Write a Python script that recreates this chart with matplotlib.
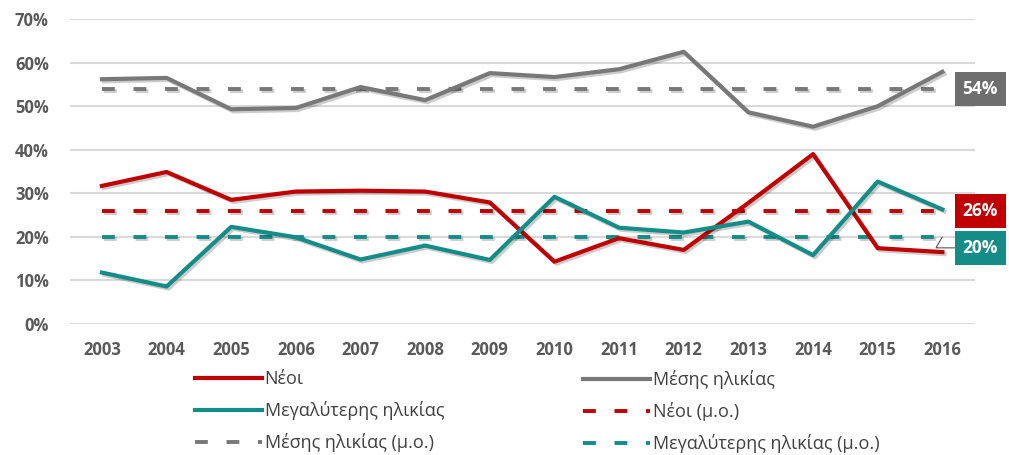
import matplotlib
matplotlib.use('Agg')
import matplotlib.pyplot as plt
import matplotlib.patheffects as pe
from matplotlib.lines import Line2D

plt.rcParams['font.family'] = ['Open Sans', 'DejaVu Sans']

years = ['2003', '2004', '2005', '2006', '2007', '2008', '2009',
         '2010', '2011', '2012', '2013', '2014', '2015', '2016']
neoi = [31.7, 34.9, 28.5, 30.4, 30.6, 30.4, 27.9, 14.3, 19.7, 17.0, 27.8, 39.0, 17.4, 16.5]
mesis = [56.2, 56.5, 49.3, 49.6, 54.4, 51.4, 57.6, 56.7, 58.5, 62.5, 48.6, 45.3, 50.0, 57.9]
megal = [11.8, 8.6, 22.3, 19.9, 14.8, 18.0, 14.7, 29.2, 22.1, 21.0, 23.5, 15.8, 32.7, 26.3]
avg_neoi = 26
avg_mesis = 54
avg_megal = 20

RED = '#C00000'
GREY = '#787878'
TEAL = '#148C88'

fig = plt.figure(figsize=(10.09, 4.55), dpi=100)
ax = fig.add_axes([0.069, 0.288, 0.897, 0.670])

x = list(range(len(years)))
shadow = [pe.SimpleLineShadow(offset=(1.5, -1.5), shadow_color='k', alpha=0.2), pe.Normal()]

ax.plot(x, neoi, color=RED, lw=3, path_effects=shadow, zorder=4)
ax.plot(x, mesis, color=GREY, lw=3, path_effects=shadow, zorder=4)
ax.plot(x, megal, color=TEAL, lw=3, path_effects=shadow, zorder=4)
dash = (3.3, 4.8)
ax.plot(x, [avg_neoi] * len(x), color=RED, lw=2.8, dashes=dash, path_effects=shadow, zorder=3)
ax.plot(x, [avg_mesis] * len(x), color=GREY, lw=2.8, dashes=dash, path_effects=shadow, zorder=3)
ax.plot(x, [avg_megal] * len(x), color=TEAL, lw=2.8, dashes=dash, path_effects=shadow, zorder=3)

ax.set_xlim(-0.5, 13.5)
ax.set_ylim(0, 70)
ax.set_yticks(range(0, 71, 10))
ax.set_yticklabels([f'{v}%' for v in range(0, 71, 10)])
ax.set_xticks(x)
ax.set_xticklabels(years)
ax.grid(axis='y', color='#D9D9D9', lw=1.5)
ax.set_axisbelow(True)
for s in ax.spines.values():
    s.set_visible(False)
ax.tick_params(length=0, labelsize=12, colors='#595959')
ax.xaxis.set_tick_params(pad=12)
ax.yaxis.set_tick_params(pad=15)
for lab in ax.get_xticklabels() + ax.get_yticklabels():
    lab.set_fontweight('bold')

# end labels
for val, col, dy in [(avg_mesis, '#6E6E6E', 0), (avg_neoi, RED, 0), (avg_megal, TEAL, -11)]:
    arrow = None
    if dy != 0:
        arrow = dict(arrowstyle='-', color='#404040', lw=0.7, shrinkA=0, shrinkB=0,
                     connectionstyle='angle,angleA=0,angleB=60,rad=0')
    ax.annotate(f'{val}%', xy=(13, val), xytext=(20, dy), textcoords='offset pixels',
                ha='left', va='center', color='white', fontsize=12.5, fontweight='bold',
                bbox=dict(boxstyle='square,pad=0.45', fc=col, ec='none'),
                annotation_clip=False, arrowprops=arrow)

h_neoi = Line2D([], [], color=RED, lw=3)
h_mesis = Line2D([], [], color=GREY, lw=3)
h_megal = Line2D([], [], color=TEAL, lw=3)
h_aneoi = Line2D([], [], color=RED, lw=2.8, dashes=dash)
h_amesis = Line2D([], [], color=GREY, lw=2.8, dashes=dash)
h_amegal = Line2D([], [], color=TEAL, lw=2.8, dashes=dash)

leg_kw = dict(frameon=False, fontsize=13, handlelength=3.7, handletextpad=0.15,
              labelspacing=0.72, borderpad=0, borderaxespad=0, loc='upper left',
              labelcolor='#404040')
leg1 = fig.legend([h_neoi, h_megal, h_amesis],
                  ['Νέοι', 'Μεγαλύτερης ηλικίας', 'Μέσης ηλικίας (μ.ο.)'],
                  bbox_to_anchor=(195 / 1009, 1 - 370 / 455), **leg_kw)
leg2 = fig.legend([h_mesis, h_aneoi, h_amegal],
                  ['Μέσης ηλικίας', 'Νέοι (μ.ο.)', 'Μεγαλύτερης ηλικίας (μ.ο.)'],
                  bbox_to_anchor=(583 / 1009, 1 - 370 / 455), **leg_kw)

fig.savefig('out.png', dpi=100)
